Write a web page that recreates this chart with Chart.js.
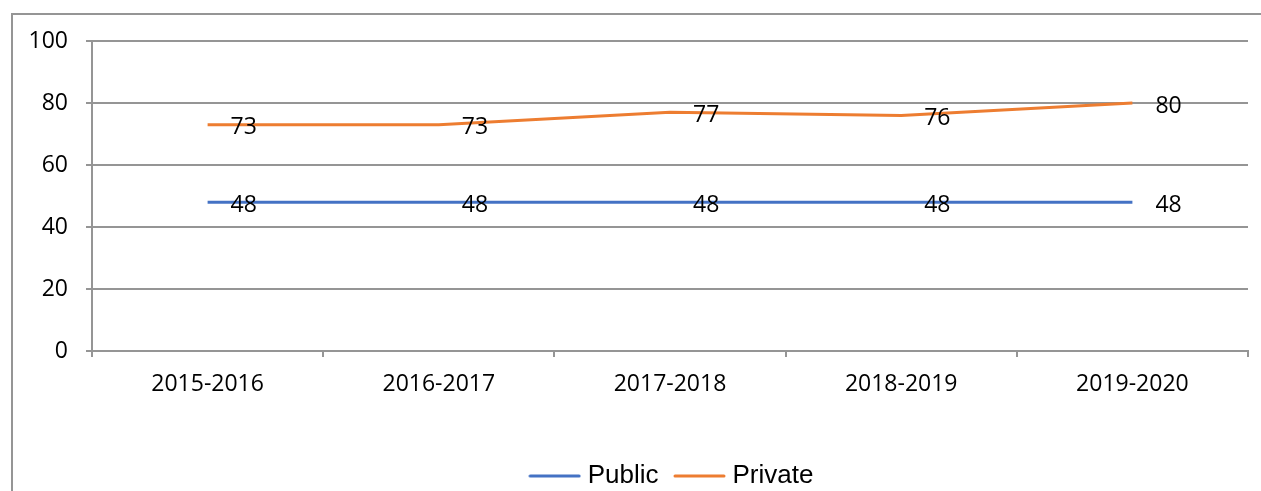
<!DOCTYPE html>
<html>
<head>
<meta charset="utf-8">
<script src="https://cdn.jsdelivr.net/npm/chart.js@4"></script>
<style>
    html, body { margin: 0; padding: 0; background: #fff; overflow: hidden; }
    #wrap { width: 1261px; height: 491px; }
</style>
</head>
<body>
<div id="wrap"><canvas id="grafica"></canvas></div>
<script>
// --- Datos ---
const years = ['2015-2016', '2016-2017', '2017-2018', '2018-2019', '2019-2020'];
const publicValues = [48, 48, 48, 48, 48];
const privateValues = [73, 73, 77, 76, 80];
const yTicks = [0, 20, 40, 60, 80, 100];

const gris = '#959595';
const fuenteNum = "'Open Sans', sans-serif";
const azul = '#4472C4';
const naranja = '#ED7D31';

// Muestra de línea para la leyenda (más ancha que la caja)
function lineaLeyenda(color) {
    const c = document.createElement('canvas');
    c.width = 53; c.height = 6;
    const g = c.getContext('2d');
    g.strokeStyle = color;
    g.lineWidth = 3;
    g.lineCap = 'round';
    g.beginPath(); g.moveTo(2, 3); g.lineTo(51, 3); g.stroke();
    return c;
}

// Marco exterior (recortado por la derecha y abajo)
const marco = {
    id: 'marco',
    beforeDraw(chart) {
        const ctx = chart.ctx;
        ctx.save();
        ctx.strokeStyle = gris;
        ctx.lineWidth = 2;
        ctx.strokeRect(12, 14, 1400, 700);
        ctx.restore();
    }
};

// Etiquetas de valor a la derecha de cada punto
const etiquetas = {
    id: 'etiquetas',
    afterDatasetsDraw(chart) {
        const ctx = chart.ctx;
        ctx.save();
        ctx.font = '23px ' + fuenteNum;
        ctx.fillStyle = '#000';
        ctx.textAlign = 'left';
        ctx.textBaseline = 'middle';
        chart.data.datasets.forEach((ds, i) => {
            chart.getDatasetMeta(i).data.forEach((pt, j) => {
                ctx.fillText(ds.data[j], pt.x + 23, pt.y + 3);
            });
        });
        ctx.restore();
    }
};

// Mover la leyenda como en el original
const moverLeyenda = {
    id: 'moverLeyenda',
    afterLayout(chart) {
        const l = chart.legend;
        l.left += 50; l.right += 50;
        l.top += 8; l.bottom += 8;
    }
};

new Chart(document.getElementById('grafica'), {
    type: 'line',
    data: {
        labels: years,
        datasets: [
            { label: 'Public', data: publicValues, borderColor: azul, backgroundColor: azul, borderWidth: 3, pointRadius: 0, tension: 0, pointStyle: lineaLeyenda(azul) },
            { label: 'Private', data: privateValues, borderColor: naranja, backgroundColor: naranja, borderWidth: 3, pointRadius: 0, tension: 0, pointStyle: lineaLeyenda(naranja) }
        ]
    },
    options: {
        responsive: true,
        maintainAspectRatio: false,
        animation: false,
        layout: { padding: { left: 0, top: 41, right: 13, bottom: 0 } },
        plugins: {
            tooltip: { enabled: false },
            legend: {
                position: 'bottom',
                labels: {
                    usePointStyle: true,
                    pointStyleWidth: 40,
                    padding: 21,
                    color: '#000',
                    font: { family: "'Liberation Sans', Arial, sans-serif", size: 26 }
                }
            }
        },
        scales: {
            x: {
                offset: true,
                grid: { offset: true, drawOnChartArea: false, drawTicks: true, tickLength: 6, color: gris, lineWidth: 2 },
                border: { color: gris, width: 2 },
                ticks: { color: '#000', padding: 14, maxRotation: 0, font: { family: fuenteNum, size: 23 } },
                afterFit(s) { s.height = 491 - 57 - 351; }
            },
            y: {
                min: 0,
                max: 100,
                grid: { color: gris, tickLength: 6, lineWidth: 2 },
                border: { color: gris, width: 2 },
                ticks: { color: '#000', padding: 18, font: { family: fuenteNum, size: 23 } },
                afterBuildTicks(s) { s.ticks = yTicks.map(v => ({ value: v })); },
                afterFit(s) { s.width = 92; }
            }
        }
    },
    plugins: [marco, etiquetas, moverLeyenda]
});
</script>
</body>
</html>
